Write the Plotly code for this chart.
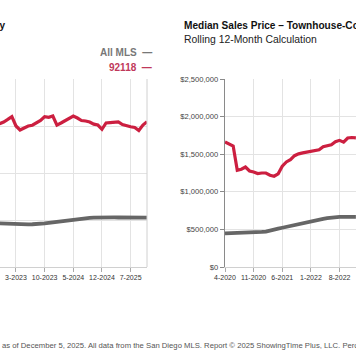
import plotly.graph_objects as go

# ---------------- data ----------------
months = []
for y in range(2020, 2026):
    for m in range(1, 13):
        if (y == 2020 and m < 4) or (y == 2025 and m > 11):
            continue
        months.append(f"{m}-{y}")

tick_labels = ["4-2020", "11-2020", "6-2021", "1-2022", "8-2022",
               "3-2023", "10-2023", "5-2024", "12-2024", "7-2025"]

# Left panel: Median Sales Price - Single Family (visible part, 11-2022 .. 11-2025)
sf_months = months[31:]
sf_92118 = [3050000, 3085000, 3140000, 3200000, 3000000, 2915000, 2957000, 3000000,
            3017000, 3064000, 3117000, 3200000, 3185000, 3213000, 3020000, 3064000,
            3117000, 3170000, 3213000, 3170000, 3117000, 3106000, 3085000, 3040000,
            3020000, 2930000, 3064000, 3070000, 3074000, 3085000, 3030000, 3000000,
            2985000, 2968000, 2904000, 3020000, 3090000]
sf_all = [930000, 925000, 920000, 917000, 914000, 912000, 910000, 909000, 910000,
          912000, 918000, 927000, 938000, 950000, 962000, 975000, 988000, 1000000,
          1012000, 1022000, 1030000, 1038000, 1045000, 1050000, 1054000, 1056000,
          1056000, 1055000, 1054000, 1053000, 1052000, 1051000, 1050000, 1050000,
          1050000, 1050000, 1050000]

# Right panel: Median Sales Price - Townhouse-Condo (visible part, 4-2020 .. 12-2022)
tc_months = months[:33]
tc_92118 = [1662000, 1631000, 1609000, 1286000, 1300000, 1330000, 1277000, 1264000,
            1243000, 1250000, 1250000, 1220000, 1207000, 1240000, 1340000, 1397000,
            1428000, 1480000, 1505000, 1518000, 1528000, 1535000, 1552000, 1558000,
            1600000, 1612000, 1625000, 1665000, 1684000, 1660000, 1715000, 1722000,
            1718000]
tc_all = [447000, 448000, 450000, 452000, 455000, 457000, 459000, 461000, 464000,
          467000, 471000, 480000, 495000, 510000, 522000, 535000, 545000, 555000,
          565000, 578000, 590000, 603000, 615000, 628000, 640000, 650000, 658000,
          663000, 666000, 667000, 667000, 667000, 667000]

RED = "#cc1f40"
GRAY = "#666666"
FONT = "Arial, Liberation Sans, sans-serif"

W, H = 356, 364
TOP, BOT = 79, 267          # plot area top / bottom in pixels


def py(pix):                # pixel row -> paper y
    return (BOT - pix) / (BOT - TOP)


def px(pix):                # pixel column -> paper x
    return pix / W


fig = go.Figure()
fig.add_trace(go.Scatter(x=sf_months, y=sf_all, mode="lines", xaxis="x", yaxis="y",
                         line=dict(color=GRAY, width=3.8), showlegend=False))
fig.add_trace(go.Scatter(x=sf_months, y=sf_92118, mode="lines", xaxis="x", yaxis="y",
                         line=dict(color=RED, width=3.2), showlegend=False))
fig.add_trace(go.Scatter(x=tc_months, y=tc_all, mode="lines", xaxis="x2", yaxis="y2",
                         line=dict(color=GRAY, width=3.8), showlegend=False))
fig.add_trace(go.Scatter(x=tc_months, y=tc_92118, mode="lines", xaxis="x2", yaxis="y2",
                         line=dict(color=RED, width=3.2), showlegend=False))

xcommon = dict(type="category", categoryorder="array", categoryarray=months,
               tickmode="array", tickvals=tick_labels, ticktext=tick_labels,
               tickangle=0,
               showgrid=True, gridcolor="#e3e3e3", gridwidth=1,
               showline=True, linecolor="#d0d0d0", linewidth=1,
               ticks="outside", ticklen=4, tickcolor="#aaaaaa",
               tickfont=dict(family=FONT, size=7, color="#333333"),
               zeroline=False, fixedrange=True, automargin=False)

fig.update_layout(
    width=W, height=H,
    margin=dict(l=0, r=0, t=TOP, b=H - BOT),
    paper_bgcolor="white", plot_bgcolor="white",
    hovermode=False, dragmode=False,
    xaxis=dict(xcommon, domain=[0, px(147)], range=[31.1, 67], anchor="y"),
    yaxis=dict(domain=[0, 1], range=[0, 4000000], dtick=1000000,
               showgrid=True, gridcolor="#e3e3e3", showticklabels=False,
               showline=False, zeroline=False, anchor="x", automargin=False,
               fixedrange=True),
    xaxis2=dict(xcommon, domain=[px(225), 1], range=[0, 32.03], anchor="y2"),
    yaxis2=dict(domain=[0, 1], range=[0, 2500000], dtick=500000,
                showgrid=True, gridcolor="#e3e3e3",
                tickprefix="$", tickformat=",d",
                tickfont=dict(family=FONT, size=7.6, color="#444444"),
                showline=True, linecolor="#8a8a8a", linewidth=1.2,
                ticks="outside", ticklen=4, tickcolor="#8a8a8a",
                zeroline=False, anchor="x2", automargin=False, fixedrange=True),
)

# right border of left panel
fig.add_shape(type="line", xref="x domain", yref="y domain", x0=1, x1=1, y0=0, y1=1,
              line=dict(color="#d0d0d0", width=1))

# titles
fig.add_annotation(text="<b>Median Sales Price – Single Family</b>", xref="paper", yref="paper",
                   x=px(7.5), y=py(25), xanchor="right", yanchor="middle",
                   showarrow=False, font=dict(family=FONT, size=10, color="#111111"))
fig.add_annotation(text="<b>Median Sales Price – Townhouse-Condo</b>", xref="paper", yref="paper",
                   x=px(182), y=py(25), xanchor="left", yanchor="middle",
                   showarrow=False, font=dict(family=FONT, size=10.1, color="#111111"))
fig.add_annotation(text="Rolling 12-Month Calculation", xref="paper", yref="paper",
                   x=px(182), y=py(39.5), xanchor="left", yanchor="middle",
                   showarrow=False, font=dict(family=FONT, size=10.4, color="#222222"))

# legend (text with dash on the right)
fig.add_annotation(text="<b>All MLS  —</b>", xref="paper", yref="paper",
                   x=px(154), y=py(52), xanchor="right", yanchor="middle",
                   showarrow=False, font=dict(family=FONT, size=10, color="#777777"))
fig.add_annotation(text="<b>92118  —</b>", xref="paper", yref="paper",
                   x=px(154), y=py(67), xanchor="right", yanchor="middle",
                   showarrow=False, font=dict(family=FONT, size=10, color="#c0385a"))

# footer
fig.add_annotation(text="as of December 5, 2025. All data from the San Diego MLS. Report © 2025 ShowingTime Plus, LLC. Percent changes are calculated using rounded figures.",
                   xref="paper", yref="paper", x=0, y=py(345),
                   xanchor="left", yanchor="middle", showarrow=False,
                   font=dict(family=FONT, size=7.7, color="#555555"))

fig.write_html("out.html",
               config={"displayModeBar": False, "staticPlot": True},
               post_script="document.body.style.margin='0px';document.body.style.overflow='hidden';")
